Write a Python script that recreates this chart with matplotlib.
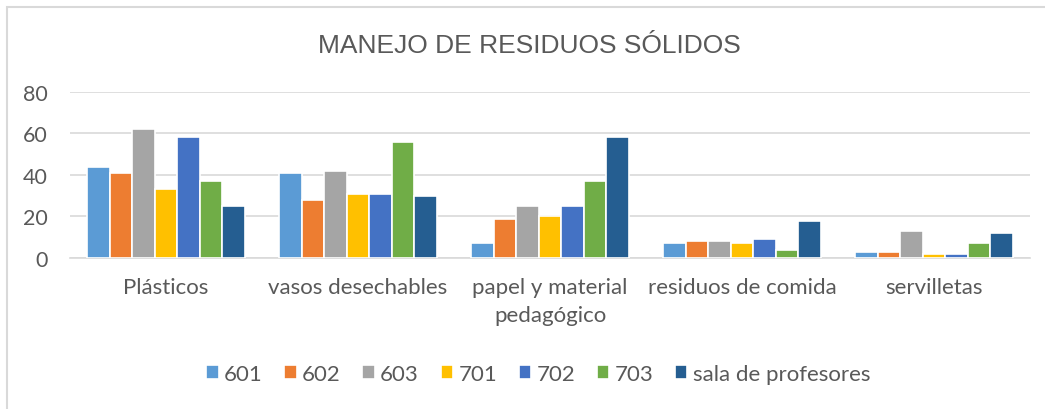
import numpy as np
import matplotlib
matplotlib.use("Agg")
from matplotlib import pyplot as plt
from matplotlib.patches import Rectangle

CATEGORIAS = ["Plásticos", "vasos desechables", "papel y material\npedagógico",
              "residuos de comida", "servilletas"]
GRUPOS = ["601", "602", "603", "701", "702", "703", "sala de profesores"]
V_601 = [44, 41, 7, 7, 3]
V_602 = [41, 28, 19, 8, 3]
V_603 = [62, 42, 25, 8, 13]
V_701 = [33, 31, 20, 7, 2]
V_702 = [58, 31, 25, 9, 2]
V_703 = [37, 56, 37, 4, 7]
V_SALA = [25, 30, 58, 18, 12]
Y_TICKS = [0, 20, 40, 60, 80]

COLORES = ["#5B9BD5", "#ED7D31", "#A5A5A5", "#FFC000", "#4472C4", "#70AD47", "#255E91"]
TEXTO = "#595959"
GRID = "#D9D9D9"

plt.rcParams['font.family'] = ['Lato', 'DejaVu Sans']

fig = plt.figure(figsize=(10.45, 4.10), dpi=100)
ax = fig.add_axes([70 / 1045, 1 - 259 / 410, 960 / 1045, (259 - 92.7) / 410])

series = [V_601, V_602, V_603, V_701, V_702, V_703, V_SALA]
x = np.arange(len(CATEGORIAS))
slot = 0.117
for i, (vals, nombre) in enumerate(zip(series, GRUPOS)):
    offset = (i - 3) * slot
    ax.bar(x + offset, vals, width=slot, color=COLORES[i], edgecolor="white",
           linewidth=1.2, label=nombre, zorder=3)

ax.set_xlim(-0.5, len(CATEGORIAS) - 0.5)
ax.set_ylim(0, 80)
ax.set_yticks(Y_TICKS)
ax.set_xticks(x)
ax.set_xticklabels(CATEGORIAS, fontsize=16, color=TEXTO, linespacing=1.5)
ax.tick_params(axis="y", length=0, pad=16, labelsize=15.5, labelcolor=TEXTO)
ax.tick_params(axis="x", length=0, pad=14)
ax.grid(axis="y", color=GRID, linewidth=1.2, zorder=0)
for s in ["top", "right", "left"]:
    ax.spines[s].set_visible(False)
ax.spines["bottom"].set_color(GRID)
ax.spines["bottom"].set_linewidth(1.2)

fig.text(0.507, 1 - 46 / 410, "MANEJO DE RESIDUOS SÓLIDOS", ha="center", va="center",
         fontsize=19, color=TEXTO, family=['Liberation Sans', 'DejaVu Sans'])

fig.legend(loc="center", bbox_to_anchor=(0.515, 1 - 375 / 410), ncol=7, frameon=False,
           fontsize=16, labelcolor=TEXTO, handlelength=0.55, handleheight=0.55,
           handletextpad=0.25, columnspacing=0.97)

fig.patches.append(Rectangle((7 / 1045, -0.1), 1.2, 1.1 - 8 / 410, transform=fig.transFigure,
                             fill=False, edgecolor=GRID, linewidth=1.5))

fig.savefig("out.png", dpi=100)
